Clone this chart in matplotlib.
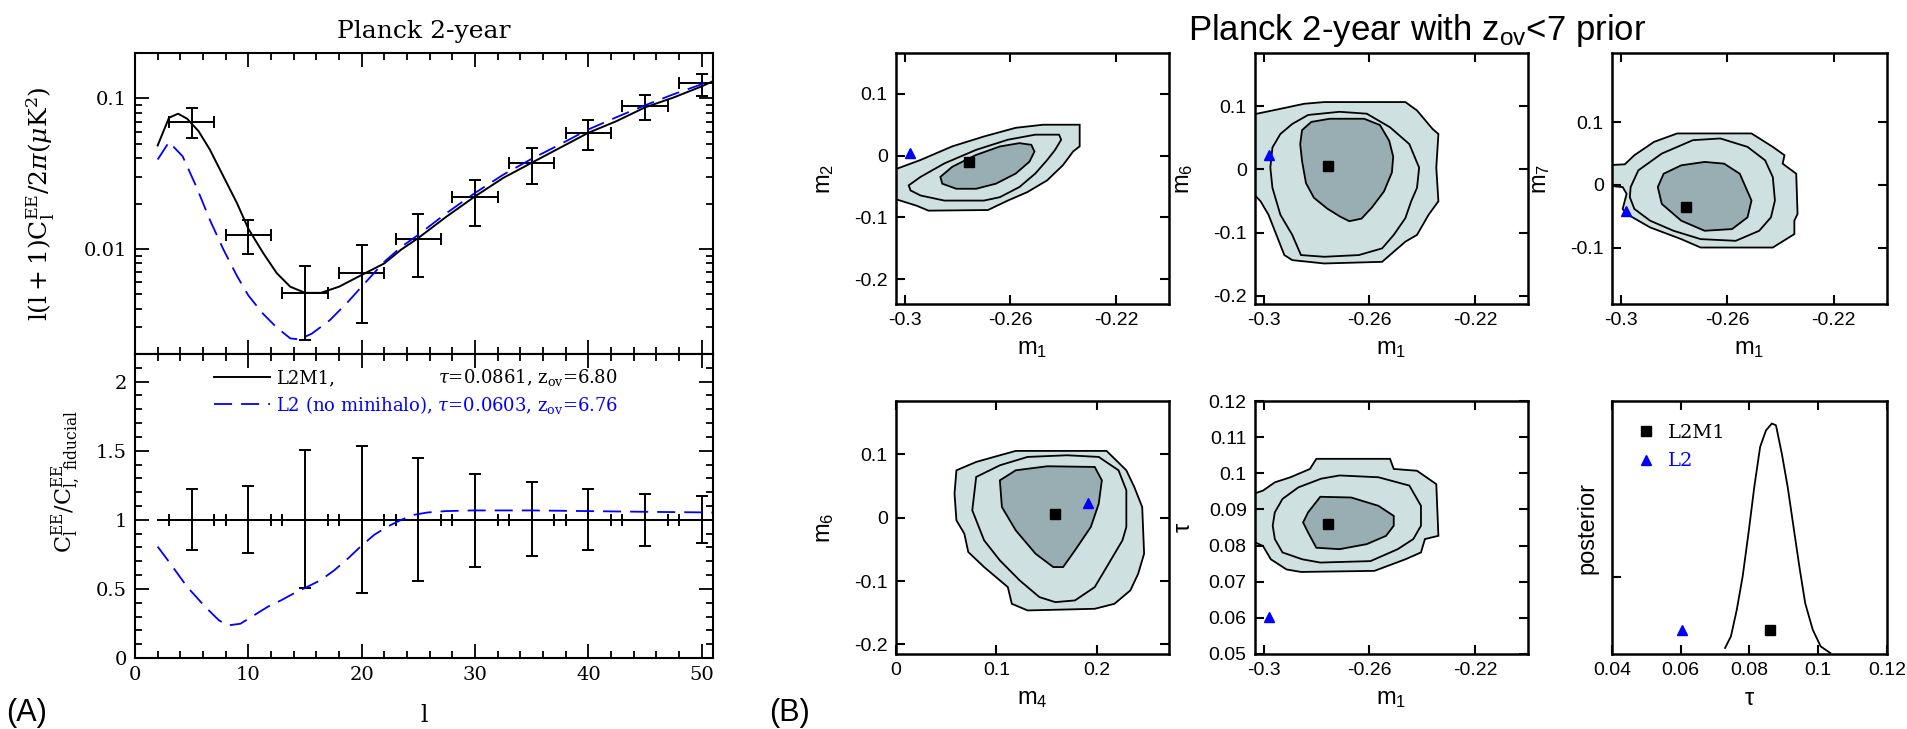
import numpy as np
import matplotlib.pyplot as plt
from matplotlib.ticker import FuncFormatter, MultipleLocator, LogLocator, NullFormatter, FixedLocator

plt.rcParams['font.family'] = 'Liberation Sans'
plt.rcParams['mathtext.fontset'] = 'custom'
plt.rcParams['mathtext.rm'] = 'Liberation Sans'
plt.rcParams['mathtext.it'] = 'Liberation Sans:italic'
plt.rcParams['mathtext.bf'] = 'Liberation Sans:bold'

SERIF = 'DejaVu Serif'
BLUE = '#0000ff'
LIGHT = '#cfe0e0'
DARK = '#98aeb2'

# ---------------- (A) EE spectrum, binned Planck 2-year errors ----------------
ell_bins = [5, 10, 15, 20, 25, 30, 35, 40, 45, 50]
ell_halfwidth = 2
cl_binned = [0.0695, 0.0124, 0.00506, 0.00689, 0.0117, 0.0220, 0.0373, 0.0590, 0.0889, 0.1259]
cl_err_hi = [0.0858, 0.0155, 0.00763, 0.0106, 0.0171, 0.0288, 0.0469, 0.0717, 0.1047, 0.1445]
cl_err_lo = [0.0541, 0.0092, 0.00249, 0.00322, 0.00647, 0.0141, 0.0271, 0.0452, 0.0713, 0.1036]
ratio_err_hi = [1.223, 1.242, 1.502, 1.533, 1.449, 1.335, 1.271, 1.223, 1.189, 1.170]
ratio_err_lo = [0.782, 0.758, 0.503, 0.467, 0.559, 0.661, 0.738, 0.782, 0.811, 0.830]

ell_l2m1 = [2, 3, 3.8, 4.6, 5.6, 6.6, 7.8, 9, 10, 11.3, 12.5, 13.7, 15, 16.4, 18, 20, 22,
            23.5, 25, 27.5, 30, 32.5, 35, 37.5, 40, 42.5, 45, 47.5, 50, 51]
cl_l2m1 = [0.0486, 0.0743, 0.0790, 0.0732, 0.0606, 0.0457, 0.0303, 0.0201, 0.0136, 0.0094,
           0.0069, 0.0056, 0.0051, 0.0051, 0.0056, 0.0067, 0.0080, 0.0099, 0.0118, 0.0164,
           0.0223, 0.0296, 0.0373, 0.0469, 0.0590, 0.0706, 0.0870, 0.1011, 0.1200, 0.1300]

ell_l2 = [2, 3, 4.2, 5.4, 6.6, 7.8, 9, 10, 11.3, 12.5, 13.7, 14.5, 15.6, 17.2, 18.8, 20.4,
          22, 23.5, 25, 27.5, 30, 32.5, 35, 37.5, 40, 42.5, 45, 47.5, 50, 51]
cl_l2 = [0.0392, 0.0512, 0.0412, 0.0260, 0.0156, 0.0099, 0.0066, 0.0049, 0.0037, 0.0030,
         0.00254, 0.0025, 0.00273, 0.00336, 0.00445, 0.00605, 0.0082, 0.0103, 0.0124,
         0.0173, 0.0235, 0.0311, 0.0396, 0.0494, 0.0621, 0.0750, 0.0898, 0.1063, 0.1240, 0.1388]

ell_fid = [2, 51]
ratio_fid = [1.0, 1.0]
ell_ratio = [2, 3.1, 4.6, 6.2, 7.4, 8.2, 9.3, 10.5, 11.7, 12.9, 14, 15.2, 16.4, 17.6, 18.8,
             19.9, 21.1, 22.3, 23.5, 24.6, 25.8, 27.4, 29.8, 35, 40, 45, 51]
ratio_l2 = [0.806, 0.685, 0.515, 0.370, 0.273, 0.236, 0.248, 0.309, 0.370, 0.418, 0.467,
            0.515, 0.564, 0.636, 0.721, 0.806, 0.891, 0.952, 1.0, 1.036, 1.053, 1.063,
            1.068, 1.068, 1.063, 1.058, 1.053]

# ---------------- (B) MCMC contours (68/95/outer) ----------------
m2m1_outer = [(-0.306, -0.026), (-0.294, -0.007), (-0.282, 0.015), (-0.270, 0.031), (-0.258, 0.045),
              (-0.2476, 0.050), (-0.2338, 0.050), (-0.2338, 0.015), (-0.2363, 0.0066), (-0.2401, -0.0153),
              (-0.2461, -0.040), (-0.2536, -0.059), (-0.261, -0.0727), (-0.2685, -0.088), (-0.291, -0.089),
              (-0.2955, -0.081), (-0.306, -0.067)]
m2m1_mid = [(-0.2985, -0.0481), (-0.294, -0.0344), (-0.285, -0.0126), (-0.273, 0.0093), (-0.261, 0.0257),
            (-0.2506, 0.0339), (-0.2416, 0.0339), (-0.2408, 0.0257), (-0.2431, 0.0093), (-0.2461, -0.0071),
            (-0.2506, -0.029), (-0.2566, -0.0508), (-0.264, -0.0672), (-0.270, -0.0727), (-0.285, -0.0727),
            (-0.294, -0.0645), (-0.2978, -0.0563)]
m2m1_inner = [(-0.2865, -0.0344), (-0.282, -0.018), (-0.273, 0.0011), (-0.264, 0.0148), (-0.2566, 0.0202),
              (-0.2521, 0.0175), (-0.2509, 0.0066), (-0.2528, -0.0098), (-0.258, -0.029), (-0.2655, -0.0454),
              (-0.273, -0.0536), (-0.2805, -0.0536), (-0.2858, -0.0454)]

m6m1_outer = [(-0.306, 0.085), (-0.2937, 0.0957), (-0.2847, 0.1037), (-0.2771, 0.1064), (-0.2464, 0.1064),
              (-0.242, 0.0931), (-0.2361, 0.0638), (-0.2339, 0.0559), (-0.2347, 0.0027), (-0.2339, -0.0505),
              (-0.2376, -0.0718), (-0.242, -0.1037), (-0.2464, -0.1144), (-0.2552, -0.1463), (-0.2771, -0.1489),
              (-0.2892, -0.1436), (-0.2922, -0.1356), (-0.2952, -0.1037), (-0.2982, -0.0718), (-0.3012, -0.0505),
              (-0.306, -0.0293)]
m6m1_mid = [(-0.2975, 0.0027), (-0.2967, 0.0346), (-0.2937, 0.0559), (-0.2892, 0.0718), (-0.2832, 0.086),
            (-0.2713, 0.091), (-0.261, 0.088), (-0.2522, 0.0665), (-0.2449, 0.0399), (-0.2412, 0.0027),
            (-0.242, -0.0293), (-0.2442, -0.0505), (-0.2464, -0.0771), (-0.2508, -0.1037), (-0.2552, -0.125),
            (-0.264, -0.1356), (-0.2771, -0.1383), (-0.2859, -0.1356), (-0.2892, -0.1037), (-0.2937, -0.0718),
            (-0.2967, -0.0293)]
m6m1_inner = [(-0.2862, 0.040), (-0.2855, 0.062), (-0.282, 0.075), (-0.275, 0.080), (-0.262, 0.080),
              (-0.256, 0.070), (-0.2525, 0.045), (-0.251, 0.020), (-0.2515, -0.005), (-0.2545, -0.035),
              (-0.259, -0.060), (-0.263, -0.078), (-0.2676, -0.082), (-0.271, -0.075), (-0.276, -0.062),
              (-0.281, -0.045), (-0.284, -0.022), (-0.2855, 0.013)]

m7m1_outer = [(-0.306, 0.031), (-0.2985, 0.0326), (-0.2949, 0.0471), (-0.2875, 0.0684), (-0.2788, 0.0818),
              (-0.2509, 0.0818), (-0.2429, 0.0604), (-0.2385, 0.0471), (-0.2392, 0.0337), (-0.2341, 0.0176),
              (-0.2336, -0.0465), (-0.2348, -0.0572), (-0.2348, -0.0786), (-0.2429, -0.100), (-0.270, -0.100),
              (-0.2773, -0.0866), (-0.289, -0.0679), (-0.2978, -0.0465), (-0.2993, -0.0385), (-0.2978, -0.0144),
              (-0.2993, -0.0037), (-0.306, -0.0011)]
m7m1_mid = [(-0.2963, -0.0037), (-0.2934, 0.023), (-0.2846, 0.0497), (-0.2729, 0.0711), (-0.2626, 0.0738),
            (-0.2524, 0.0604), (-0.2458, 0.039), (-0.2429, 0.0123), (-0.2421, -0.0251), (-0.2436, -0.0519),
            (-0.248, -0.0733), (-0.2568, -0.0893), (-0.270, -0.0866), (-0.2802, -0.0733), (-0.289, -0.0572),
            (-0.2949, -0.0385), (-0.2966, -0.0198)]
m7m1_inner = [(-0.2861, -0.0037), (-0.2839, 0.0176), (-0.2773, 0.031), (-0.2685, 0.0364), (-0.2612, 0.0337),
              (-0.2553, 0.0176), (-0.2509, -0.0251), (-0.2524, -0.0519), (-0.2582, -0.0706), (-0.2685, -0.0733),
              (-0.2773, -0.0572), (-0.2846, -0.0305)]

m6m4_outer = [(0.0602, 0.0747), (0.0799, 0.0879), (0.1035, 0.0984), (0.1193, 0.1053), (0.2098, 0.1053),
              (0.2295, 0.0747), (0.2374, 0.0484), (0.2453, 0.0168), (0.2472, -0.0568), (0.2413, -0.0884),
              (0.2335, -0.1147), (0.2177, -0.1358), (0.198, -0.1437), (0.1311, -0.1463), (0.1154, -0.1358),
              (0.1114, -0.1095), (0.0878, -0.0779), (0.072, -0.0542), (0.0681, -0.0253), (0.0602, -0.0042),
              (0.0583, 0.0379)]
m6m4_mid = [(0.0799, 0.0642), (0.1035, 0.0826), (0.1311, 0.0958), (0.1705, 0.0984), (0.202, 0.0958),
            (0.2217, 0.0747), (0.2295, 0.0432), (0.2295, -0.0147), (0.2256, -0.0358), (0.2138, -0.0674),
            (0.198, -0.1095), (0.1783, -0.1305), (0.1587, -0.1332), (0.1429, -0.1253), (0.1232, -0.0989),
            (0.1035, -0.0674), (0.0878, -0.0358), (0.076, 0.0116)]
m6m4_inner = [(0.1035, 0.0589), (0.1193, 0.0747), (0.1508, 0.0811), (0.198, 0.080), (0.2051, 0.0589),
              (0.202, 0.0221), (0.1941, -0.0147), (0.1783, -0.0516), (0.1665, -0.0779), (0.1567, -0.0779),
              (0.139, -0.0568), (0.1193, -0.020), (0.1055, 0.0168)]

taum1_outer = [(-0.306, 0.0938), (-0.3003, 0.0952), (-0.2958, 0.0975), (-0.2899, 0.0989), (-0.2825, 0.1012),
               (-0.2801, 0.104), (-0.2522, 0.104), (-0.2508, 0.1012), (-0.242, 0.1007), (-0.2347, 0.097),
               (-0.2339, 0.0827), (-0.239, 0.0818), (-0.2405, 0.0781), (-0.2464, 0.0762), (-0.2581, 0.073),
               (-0.2859, 0.0727), (-0.2914, 0.0734), (-0.2973, 0.0762), (-0.3003, 0.0799), (-0.306, 0.0818)]
taum1_mid = [(-0.2966, 0.0855), (-0.2958, 0.0892), (-0.2929, 0.0929), (-0.2869, 0.0961), (-0.2783, 0.0985),
             (-0.2713, 0.0994), (-0.2566, 0.0989), (-0.2449, 0.0966), (-0.2405, 0.091), (-0.2405, 0.0855),
             (-0.2434, 0.0818), (-0.2493, 0.079), (-0.2596, 0.0757), (-0.2786, 0.0753), (-0.2854, 0.0762),
             (-0.2929, 0.0781), (-0.2958, 0.0818)]
taum1_inner = [(-0.2851, 0.0864), (-0.2832, 0.0892), (-0.2786, 0.0935), (-0.2669, 0.0933), (-0.2566, 0.091),
               (-0.2508, 0.0882), (-0.2508, 0.0855), (-0.2537, 0.0827), (-0.261, 0.0804), (-0.2713, 0.079),
               (-0.2801, 0.0794), (-0.2832, 0.0836)]

tau_grid = [0.0729, 0.0746, 0.0763, 0.0780, 0.0797, 0.0814, 0.0831, 0.0848, 0.0865, 0.0877,
            0.0894, 0.0911, 0.0928, 0.0945, 0.0962, 0.0984, 0.1007, 0.1035]
tau_posterior = [0.024, 0.070, 0.175, 0.306, 0.477, 0.661, 0.819, 0.884, 0.911, 0.904,
                 0.792, 0.661, 0.503, 0.346, 0.201, 0.096, 0.030, 0.004]

# best-fit parameters of the two reionization models
l2m1_best = {'m1': -0.2755, 'm2': -0.011, 'm4': 0.158, 'm6': 0.006, 'm7': -0.036, 'tau': 0.0861}
l2_best = {'m1': -0.298, 'm2': 0.005, 'm4': 0.191, 'm6': 0.023, 'm7': -0.042, 'tau': 0.0603}
marker_post_level = 0.095

fig = plt.figure(figsize=(19.07, 7.29), dpi=100)
W, H = 1907.0, 729.0


def px_axes(x0, x1, y0, y1):
    return fig.add_axes([x0 / W, 1 - y1 / H, (x1 - x0) / W, (y1 - y0) / H])


gfmt = FuncFormatter(lambda v, pos: '%g' % v)

# ---- (A) top: l(l+1)C_l/2pi ----
axA1 = px_axes(135, 713, 53, 354)
axA2 = px_axes(135, 713, 354, 658)

axA1.errorbar(ell_bins, cl_binned, xerr=ell_halfwidth,
              yerr=[np.array(cl_binned) - np.array(cl_err_lo), np.array(cl_err_hi) - np.array(cl_binned)],
              fmt='none', ecolor='k', elinewidth=1.4, capsize=4, capthick=1.4)
axA1.plot(ell_l2m1, cl_l2m1, color='k', lw=1.4)
axA1.plot(ell_l2, cl_l2, color=BLUE, lw=1.3, dashes=(10, 5))
axA1.set_yscale('log')
axA1.set_ylim(0.002, 0.2)
axA1.yaxis.set_major_locator(LogLocator(base=10))
axA1.yaxis.set_minor_locator(LogLocator(base=10, subs=np.arange(2, 10)))
axA1.yaxis.set_major_formatter(gfmt)
axA1.yaxis.set_minor_formatter(NullFormatter())
axA1.set_ylabel(r'$\mathrm{l(l+1)C_l^{EE}/2}\pi(\mu \mathrm{K}^2)$', fontsize=18, family=SERIF,
                math_fontfamily='dejavuserif')
axA1.yaxis.set_label_coords(-0.135, 0.5)
axA1.set_title('Planck 2-year', fontsize=18, family=SERIF, pad=11)

axA2.errorbar(ell_bins, [1.0] * len(ell_bins), xerr=ell_halfwidth,
              yerr=[1 - np.array(ratio_err_lo), np.array(ratio_err_hi) - 1],
              fmt='none', ecolor='k', elinewidth=1.4, capsize=4, capthick=1.4)
h_fid, = axA2.plot(ell_fid, ratio_fid, color='k', lw=1.4)
h_l2, = axA2.plot(ell_ratio, ratio_l2, color=BLUE, lw=1.3, dashes=(10, 5))
axA2.set_ylim(0, 2.2)
axA2.yaxis.set_major_locator(MultipleLocator(0.5))
axA2.yaxis.set_minor_locator(MultipleLocator(0.1))
axA2.yaxis.set_major_formatter(gfmt)
axA2.set_ylabel(r'$\mathrm{C_l^{EE}/C_{l,\ fiducial}^{EE}}$', fontsize=16, family=SERIF,
                math_fontfamily='dejavuserif')
axA2.yaxis.set_label_coords(-0.09, 0.58)
axA2.set_xlabel('l', fontsize=17, family=SERIF)
axA2.xaxis.set_label_coords(0.5, -0.15)

for ax in (axA1, axA2):
    ax.set_xlim(0, 51)
    ax.xaxis.set_major_locator(MultipleLocator(10))
    ax.xaxis.set_minor_locator(MultipleLocator(2))
    ax.xaxis.set_major_formatter(gfmt)
    ax.tick_params(which='both', direction='in', top=True, right=True, width=1.3,
                   labelsize=14, labelfontfamily=SERIF, pad=6)
    ax.tick_params(which='major', length=10)
    ax.tick_params(which='minor', length=5)
    for s in ax.spines.values():
        s.set_linewidth(1.5)
axA1.tick_params(labelbottom=False)

leg = axA2.legend([h_fid, h_l2],
                  ['L2M1,', r'L2 (no minihalo), $\tau$=0.0603, z$_{\rm ov}$=6.76'],
                  loc='upper left', bbox_to_anchor=(0.137, 0.95), frameon=False,
                  borderpad=0, borderaxespad=0, handlelength=3.1, handletextpad=0.3,
                  labelspacing=0.35, prop={'family': SERIF, 'size': 13})
for t in leg.get_texts():
    t.set_math_fontfamily('dejavuserif')
leg.get_texts()[1].set_color(BLUE)

# ---- (B) 2D marginalised posteriors ----
cols = [(896, 1169), (1255, 1528), (1612, 1887)]
rows = [(53, 304), (401, 654)]


def style_b(ax, xticks, yticks, xlim, ylim):
    ax.set_xlim(*xlim)
    ax.set_ylim(*ylim)
    ax.xaxis.set_major_locator(FixedLocator(xticks))
    ax.yaxis.set_major_locator(FixedLocator(yticks))
    ax.xaxis.set_major_formatter(gfmt)
    ax.yaxis.set_major_formatter(gfmt)
    ax.tick_params(direction='in', top=True, right=True, length=6.5, width=1.5, labelsize=14, pad=6)
    for s in ax.spines.values():
        s.set_linewidth(1.8)


def draw_contours(ax, outer, mid, inner):
    ox, oy = np.array(outer).T
    mx, my = np.array(mid).T
    ix, iy = np.array(inner).T
    ax.fill(ox, oy, facecolor=LIGHT, edgecolor='k', lw=1.3)
    ax.fill(mx, my, fill=False, edgecolor='k', lw=1.3)
    ax.fill(ix, iy, facecolor=DARK, edgecolor='k', lw=1.3)


def best_fit(ax, xkey, ykey):
    ax.plot(l2m1_best[xkey], l2m1_best[ykey], 's', color='k', ms=7)
    ax.plot(l2_best[xkey], l2_best[ykey], '^', color=BLUE, ms=7)


m1_lim = (-0.3033, -0.2)
m1_ticks = [-0.3, -0.26, -0.22]
m_ticks = [-0.2, -0.1, 0, 0.1]

ax1 = px_axes(cols[0][0], cols[0][1], rows[0][0], rows[0][1])
draw_contours(ax1, m2m1_outer, m2m1_mid, m2m1_inner)
best_fit(ax1, 'm1', 'm2')
style_b(ax1, m1_ticks, m_ticks, m1_lim, (-0.24, 0.166))
ax1.set_xlabel('m$_1$', fontsize=17)
ax1.set_ylabel('m$_2$', fontsize=17)

ax2 = px_axes(cols[1][0], cols[1][1], rows[0][0], rows[0][1])
draw_contours(ax2, m6m1_outer, m6m1_mid, m6m1_inner)
best_fit(ax2, 'm1', 'm6')
style_b(ax2, m1_ticks, m_ticks, m1_lim, (-0.213, 0.184))
ax2.set_xlabel('m$_1$', fontsize=17)
ax2.set_ylabel('m$_6$', fontsize=17)

ax3 = px_axes(cols[2][0], cols[2][1], rows[0][0], rows[0][1])
draw_contours(ax3, m7m1_outer, m7m1_mid, m7m1_inner)
best_fit(ax3, 'm1', 'm7')
style_b(ax3, m1_ticks, [-0.1, 0, 0.1], m1_lim, (-0.19, 0.21))
ax3.set_xlabel('m$_1$', fontsize=17)
ax3.set_ylabel('m$_7$', fontsize=17)

ax4 = px_axes(cols[0][0], cols[0][1], rows[1][0], rows[1][1])
draw_contours(ax4, m6m4_outer, m6m4_mid, m6m4_inner)
best_fit(ax4, 'm4', 'm6')
style_b(ax4, [0, 0.1, 0.2], m_ticks, (0, 0.272), (-0.215, 0.184))
ax4.set_xlabel('m$_4$', fontsize=17)
ax4.set_ylabel('m$_6$', fontsize=17)

ax5 = px_axes(cols[1][0], cols[1][1], rows[1][0], rows[1][1])
draw_contours(ax5, taum1_outer, taum1_mid, taum1_inner)
best_fit(ax5, 'm1', 'tau')
style_b(ax5, m1_ticks, [0.05, 0.06, 0.07, 0.08, 0.09, 0.1, 0.11, 0.12], m1_lim, (0.05, 0.12))
ax5.set_xlabel('m$_1$', fontsize=17)
ax5.set_ylabel('τ', fontsize=17)

ax6 = px_axes(cols[2][0], cols[2][1], rows[1][0], rows[1][1])
ax6.plot(tau_grid, tau_posterior, color='k', lw=1.3)
p_sq, = ax6.plot(l2m1_best['tau'], marker_post_level, 's', color='k', ms=7)
p_tri, = ax6.plot(l2_best['tau'], marker_post_level, '^', color=BLUE, ms=7)
style_b(ax6, [0.04, 0.06, 0.08, 0.1, 0.12], [0.306], (0.04, 0.12), (0, 1))
ax6.tick_params(axis='y', labelleft=False, right=False)
ax6.set_xlabel('τ', fontsize=17)
ax6.set_ylabel('posterior', fontsize=17)
leg6 = ax6.legend([p_sq, p_tri], ['L2M1', 'L2'], loc='upper left', bbox_to_anchor=(0.09, 0.91),
                  frameon=False, borderpad=0, borderaxespad=0, handlelength=1.0, handletextpad=0.6,
                  labelspacing=0.55, prop={'family': SERIF, 'size': 14})
leg6.get_texts()[1].set_color(BLUE)

for ax in (ax1, ax2, ax3, ax4, ax5):
    ax.yaxis.set_label_coords(-0.22, 0.5)
for ax in (ax1, ax2, ax3, ax4, ax5, ax6):
    ax.xaxis.set_label_coords(0.5, -0.135)
ax6.yaxis.set_label_coords(-0.05, 0.5)

fig.text(1417 / W, 1 - 40 / H, r'Planck 2-year with z$_{\rm ov}$<7 prior', ha='center',
         va='baseline', fontsize=25)
fig.text(6 / W, 1 / H, '(A)', fontsize=22, ha='left', va='bottom')
fig.text(769 / W, 1 / H, '(B)', fontsize=22, ha='left', va='bottom')

# right-aligned model parameters for the L2M1 legend row
fig.canvas.draw()
t0, t1 = leg.get_texts()
base0 = t0.get_transform().transform(t0.get_position())[1]
x_end = t1.get_window_extent().x1
fig.text(x_end / fig.bbox.width, base0 / fig.bbox.height,
         r'$\tau$=0.0861, z$_{\rm ov}$=6.80', ha='right', va='baseline',
         family=SERIF, fontsize=13, math_fontfamily='dejavuserif')

fig.savefig('out.png', dpi=100)
